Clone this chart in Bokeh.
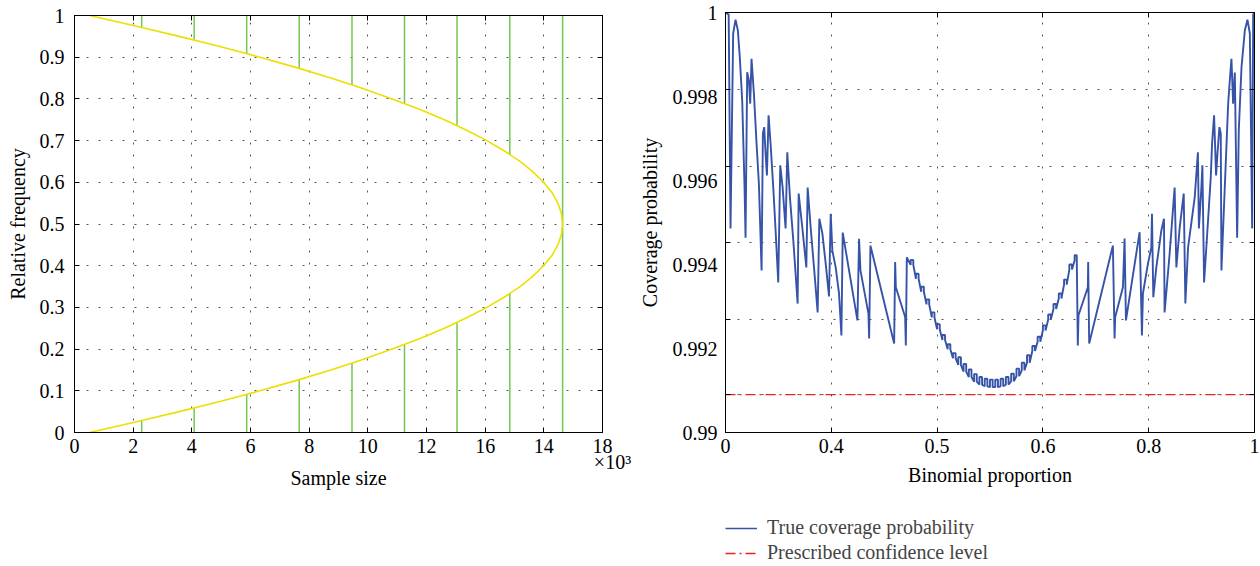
from bokeh.plotting import figure
from bokeh.layouts import row, column
from bokeh.models import FixedTicker, LinearAxis, Legend, LegendItem, Range1d
from bokeh.embed import file_html
from bokeh.resources import INLINE

FONT = "Liberation Serif"
FS = "20px"

# ---------------- Left chart data ----------------
rel_freq = [0.0, 0.025, 0.05, 0.075, 0.1, 0.125, 0.15, 0.175, 0.2, 0.225, 0.25,
            0.275, 0.3, 0.325, 0.35, 0.375, 0.4, 0.425, 0.45, 0.475, 0.5,
            0.525, 0.55, 0.575, 0.6, 0.625, 0.65, 0.675, 0.7, 0.725, 0.75,
            0.775, 0.8, 0.825, 0.85, 0.875, 0.9, 0.925, 0.95, 0.975, 1.0]
sample_size_k = [0.51, 2.08, 3.57, 4.99, 6.32, 7.57, 8.74, 9.83, 10.83, 11.76, 12.61,
                 13.37, 14.06, 14.66, 15.19, 15.63, 15.99, 16.28, 16.48, 16.60, 16.64,
                 16.60, 16.48, 16.28, 15.99, 15.63, 15.19, 14.66, 14.06, 13.37, 12.61,
                 11.76, 10.83, 9.83, 8.74, 7.57, 6.32, 4.99, 3.57, 2.08, 0.51]
green_x = [2.29, 4.08, 5.87, 7.66, 9.46, 11.25, 13.04, 14.84, 16.64]
green_low = [0.0284, 0.0588, 0.0914, 0.1269, 0.1664, 0.2110, 0.2638, 0.3330, 0.5]
green_high = [0.9716, 0.9412, 0.9086, 0.8731, 0.8336, 0.7890, 0.7362, 0.6670, 0.5]
green_bottom = [0.0] * 9
green_top = [1.0] * 9
left_xticks = [0, 2, 4, 6, 8, 10, 12, 14, 16, 18]
left_xlabels = ["0", "2", "4", "6", "8", "10", "12", "16", "14", "18"]
left_yticks = [0, 0.1, 0.2, 0.3, 0.4, 0.5, 0.6, 0.7, 0.8, 0.9, 1]
left_ylabels = ["0", "0.1", "0.2", "0.3", "0.4", "0.5", "0.6", "0.7", "0.8", "0.9", "1"]
left_xgrid = [2, 4, 6, 8, 10, 12, 14, 16]
left_ygrid = [0.1, 0.2, 0.3, 0.4, 0.5, 0.6, 0.7, 0.8, 0.9]
scale_tick = [18]
scale_label = ["\u00a0\u00a0\u00a0\u00a0×10³"]

# ---------------- Right chart data ----------------
cov_x = [0.000, 0.006, 0.0095, 0.0145, 0.019, 0.0234, 0.027, 0.0316, 0.036, 0.0379,
         0.041, 0.0442, 0.0467, 0.0492, 0.0537, 0.0587, 0.0631, 0.0682, 0.0707, 0.0732,
         0.0758, 0.0783, 0.0814, 0.0852, 0.0903, 0.0947, 0.0997, 0.1035, 0.108, 0.1136,
         0.1168, 0.1218, 0.1282, 0.1364, 0.1383, 0.1452, 0.1528, 0.1553, 0.161, 0.1673,
         0.1742, 0.1774, 0.1831, 0.1894, 0.1957, 0.1989, 0.202, 0.2083, 0.2146, 0.2191,
         0.2216, 0.2273, 0.2494, 0.2525, 0.2551, 0.2702, 0.2715, 0.2740, 0.3188, 0.3207,
         0.3220, 0.3396, 0.3409, 0.3428,
         0.350, 0.350, 0.355, 0.355, 0.360, 0.360, 0.365, 0.365,
         0.370, 0.370, 0.375, 0.375, 0.380, 0.380, 0.385, 0.385,
         0.390, 0.390, 0.395, 0.395, 0.400, 0.400, 0.405, 0.405,
         0.410, 0.410, 0.415, 0.415, 0.420, 0.420, 0.425, 0.425,
         0.430, 0.430, 0.435, 0.435, 0.440, 0.440, 0.445, 0.445,
         0.450, 0.450, 0.455, 0.455, 0.460, 0.460, 0.465, 0.465,
         0.470, 0.470, 0.475, 0.475, 0.480, 0.480, 0.485, 0.485,
         0.490, 0.490, 0.495, 0.495, 0.500, 0.500, 0.505, 0.505,
         0.510, 0.510, 0.515, 0.515, 0.520, 0.520, 0.525, 0.525,
         0.530, 0.530, 0.535, 0.535, 0.540, 0.540, 0.545, 0.545,
         0.550, 0.550, 0.555, 0.555, 0.560, 0.560, 0.565, 0.565,
         0.570, 0.570, 0.575, 0.575, 0.580, 0.580, 0.585, 0.585,
         0.590, 0.590, 0.595, 0.595, 0.600, 0.600, 0.605, 0.605,
         0.610, 0.610, 0.615, 0.615, 0.620, 0.620, 0.625, 0.625,
         0.630, 0.630, 0.635, 0.635, 0.640, 0.640, 0.645, 0.645,
         0.650, 0.650, 0.655, 0.655, 0.660, 0.660, 0.664, 0.664,
         0.666, 0.6673, 0.685, 0.6856, 0.6875, 0.7323, 0.7355, 0.7367, 0.7513, 0.7544,
         0.7570, 0.7828, 0.7872, 0.7891, 0.7986, 0.8049, 0.8062, 0.8087, 0.8144, 0.8239,
         0.8289, 0.8300, 0.8396, 0.8490, 0.8523, 0.8586, 0.8662, 0.8693, 0.8744, 0.8870,
         0.8930, 0.8949, 0.8996, 0.9015, 0.9047, 0.9110, 0.9173, 0.9198, 0.9236, 0.9274,
         0.9300, 0.9337, 0.9362, 0.9375, 0.9438, 0.9502, 0.9533, 0.9564, 0.9596, 0.9628,
         0.9672, 0.9703, 0.9754, 0.9817, 0.9867, 0.9912, 0.9956, 0.9975, 1.000]
cov_y = [1.00000, 0.99995, 0.99486, 0.99950, 0.99983, 0.99957, 0.99894, 0.99790, 0.99583, 0.99464,
         0.99858, 0.99838, 0.99783, 0.99890, 0.99807, 0.99688, 0.99593, 0.99386, 0.99712, 0.99727,
         0.99664, 0.99612, 0.99755, 0.99688, 0.99583, 0.99481, 0.99357, 0.99636, 0.99583, 0.99486,
         0.99667, 0.99560, 0.99457, 0.99307, 0.99569, 0.99488, 0.99393, 0.99583, 0.99488, 0.99393,
         0.99286, 0.99509, 0.99474, 0.99402, 0.99324, 0.99521, 0.99433, 0.99393, 0.99331, 0.99231,
         0.99476, 0.99433, 0.99267, 0.99461, 0.99386, 0.99283, 0.99224, 0.99445, 0.99212, 0.99406,
         0.99346, 0.99275, 0.99207, 0.99417,
         0.99399, 0.99411, 0.99411, 0.99399, 0.99366, 0.99378, 0.99378, 0.99366,
         0.99335, 0.99347, 0.99347, 0.99335, 0.99305, 0.99317, 0.99317, 0.99305,
         0.99274, 0.99286, 0.99286, 0.99274, 0.99246, 0.99258, 0.99258, 0.99246,
         0.99220, 0.99232, 0.99232, 0.99220, 0.99198, 0.99210, 0.99210, 0.99198,
         0.99177, 0.99189, 0.99189, 0.99177, 0.99161, 0.99179, 0.99179, 0.99161,
         0.99145, 0.99163, 0.99163, 0.99145, 0.99132, 0.99150, 0.99150, 0.99132,
         0.99121, 0.99139, 0.99139, 0.99121, 0.99114, 0.99132, 0.99132, 0.99114,
         0.99110, 0.99128, 0.99128, 0.99110, 0.99108, 0.99126, 0.99126, 0.99108,
         0.99108, 0.99126, 0.99126, 0.99108, 0.99110, 0.99128, 0.99128, 0.99110,
         0.99114, 0.99132, 0.99132, 0.99114, 0.99122, 0.99140, 0.99140, 0.99122,
         0.99134, 0.99152, 0.99152, 0.99134, 0.99148, 0.99166, 0.99166, 0.99148,
         0.99166, 0.99184, 0.99184, 0.99166, 0.99194, 0.99206, 0.99206, 0.99194,
         0.99216, 0.99228, 0.99228, 0.99216, 0.99243, 0.99255, 0.99255, 0.99243,
         0.99269, 0.99281, 0.99281, 0.99269, 0.99294, 0.99306, 0.99306, 0.99294,
         0.99319, 0.99331, 0.99331, 0.99319, 0.99352, 0.99364, 0.99364, 0.99352,
         0.99388, 0.99400, 0.99400, 0.99388, 0.99410, 0.99422, 0.99422, 0.99415,
         0.99207, 0.99279, 0.99346, 0.99406, 0.99212, 0.99445, 0.99224, 0.99275, 0.99346, 0.99462,
         0.99267, 0.99477, 0.99231, 0.99331, 0.99402, 0.99440, 0.99521, 0.99322, 0.99393, 0.99481,
         0.99509, 0.99286, 0.99426, 0.99583, 0.99393, 0.99488, 0.99569, 0.99307, 0.99440, 0.99560,
         0.99667, 0.99486, 0.99583, 0.99636, 0.99357, 0.99481, 0.99607, 0.99688, 0.99755, 0.99612,
         0.99664, 0.99727, 0.99712, 0.99386, 0.99583, 0.99783, 0.99838, 0.99890, 0.99783, 0.99857,
         0.99464, 0.99719, 0.99869, 0.99957, 0.99983, 0.99950, 0.99486, 0.99995, 1.00000]
conf_x = [0.0, 1.0]
conf_y = [0.9909, 0.9909]
right_xticks = [0, 0.2, 0.4, 0.6, 0.8, 1]
right_xlabels = ["0", "0.4", "0.5", "0.6", "0.8", "1"]
right_xgrid = [0.2, 0.4, 0.6, 0.8]
right_ylabel_vals = [0.99, 0.992, 0.994, 0.996, 0.998, 1.0]
right_ylabels = ["0.99", "0.992", "0.994", "0.996", "0.998", "1"]
right_ygrid = [0.99090, 0.99270, 0.99452, 0.99633, 0.99817]
legend_labels = ["True coverage probability", "Prescribed confidence level"]

GRID_COLOR = "#555555"
BLUE = "#3653a8"
RED = "#e8221e"
RED_DASH = "10 4 2 4"


def style_axis(ax):
    ax.axis_label_text_font = FONT
    ax.axis_label_text_font_size = FS
    ax.axis_label_text_font_style = "normal"
    ax.axis_label_text_color = "black"
    ax.major_label_text_font = FONT
    ax.major_label_text_font_size = FS
    ax.major_label_text_color = "black"
    ax.axis_line_color = "black"
    ax.major_tick_line_color = "black"
    ax.minor_tick_line_color = "black"
    ax.major_tick_in = 5
    ax.major_tick_out = 0
    ax.minor_tick_in = 0
    ax.minor_tick_out = 0


def tick_axis(ticker, minor_in=0):
    # frame-edge axis that only carries inward tick marks (its labels are not drawn)
    ax = LinearAxis(ticker=ticker)
    ax.major_label_text_font_size = "1px"
    ax.major_label_text_color = None
    ax.major_label_standoff = 0
    ax.axis_line_color = "black"
    ax.major_tick_line_color = "black"
    ax.minor_tick_line_color = "black"
    ax.major_tick_in = 5
    ax.major_tick_out = 0
    ax.minor_tick_in = minor_in
    ax.minor_tick_out = 0
    return ax


def style_grid(p, xg, yg):
    p.xgrid.ticker = FixedTicker(ticks=xg)
    p.ygrid.ticker = FixedTicker(ticks=yg)
    for g in (p.xgrid[0], p.ygrid[0]):
        g.grid_line_color = GRID_COLOR
        g.grid_line_dash = "2 10"
        g.grid_line_width = 1


# ---------------- Left figure ----------------
p1 = figure(width=635, height=502, x_range=Range1d(0, 18), y_range=Range1d(0, 1),
            output_backend="svg", toolbar_location=None,
            min_border_left=74, min_border_right=33, min_border_top=15, min_border_bottom=70,
            outline_line_color="black", background_fill_color="white")
style_grid(p1, left_xgrid, left_ygrid)
p1.xaxis.ticker = FixedTicker(ticks=left_xticks)
p1.xaxis.major_label_overrides = dict(zip(left_xticks, left_xlabels))
p1.yaxis.ticker = FixedTicker(ticks=left_yticks)
p1.yaxis.major_label_overrides = dict(zip(left_yticks, left_ylabels))
p1.yaxis.axis_label = "Relative frequency"
for ax in p1.xaxis + p1.yaxis:
    style_axis(ax)
p1.xaxis.major_label_standoff = 6
p1.yaxis.major_label_standoff = 10
p1.yaxis.axis_label_standoff = 8

# second "below" axis carrying the x10^3 multiplier and the axis title
sc_ax = LinearAxis(ticker=FixedTicker(ticks=scale_tick),
                   major_label_overrides=dict(zip(scale_tick, scale_label)),
                   axis_label="Sample size")
style_axis(sc_ax)
sc_ax.axis_line_color = None
sc_ax.major_tick_line_color = None
sc_ax.major_tick_in = 0
sc_ax.major_label_standoff = -5
sc_ax.axis_label_standoff = -9
p1.add_layout(sc_ax, "below")
p1.add_layout(tick_axis(FixedTicker(ticks=left_xticks)), "above")
p1.add_layout(tick_axis(FixedTicker(ticks=left_yticks)), "right")

p1.segment(x0=green_x, y0=green_bottom, x1=green_x, y1=green_low,
           line_color="#74c850", line_width=1.5)
p1.segment(x0=green_x, y0=green_high, x1=green_x, y1=green_top,
           line_color="#74c850", line_width=1.5)
p1.line(x=sample_size_k, y=rel_freq, line_color="#ece000", line_width=1.6)

# ---------------- Right figure ----------------
p2 = figure(width=625, height=494, x_range=Range1d(0, 1), y_range=Range1d(0.99, 1.0),
            output_backend="svg", toolbar_location=None,
            min_border_left=90, min_border_right=6, min_border_top=12, min_border_bottom=62,
            outline_line_color="black", background_fill_color="white")
style_grid(p2, right_xgrid, right_ygrid)
p2.xaxis.ticker = FixedTicker(ticks=right_xticks)
p2.xaxis.major_label_overrides = dict(zip(right_xticks, right_xlabels))
p2.yaxis.ticker = FixedTicker(ticks=right_ylabel_vals, minor_ticks=right_ygrid)
p2.yaxis.major_label_overrides = dict(zip(right_ylabel_vals, right_ylabels))
p2.xaxis.axis_label = "Binomial proportion"
p2.yaxis.axis_label = "Coverage probability"
for ax in p2.xaxis + p2.yaxis:
    style_axis(ax)
p2.yaxis.major_tick_in = 0
p2.yaxis.minor_tick_in = 5
p2.xaxis.major_label_standoff = 6
p2.xaxis.axis_label_standoff = 8
p2.yaxis.major_label_standoff = 8
p2.yaxis.axis_label_standoff = 9
p2.add_layout(tick_axis(FixedTicker(ticks=right_xticks)), "above")
p2.add_layout(tick_axis(FixedTicker(ticks=[], minor_ticks=right_ygrid), minor_in=5), "right")

p2.line(x=cov_x, y=cov_y, line_color=BLUE, line_width=1.9)
p2.line(x=conf_x, y=conf_y, line_color=RED, line_width=1.3, line_dash=RED_DASH)

# ---------------- Legend strip below the right chart ----------------
pl = figure(width=625, height=72, x_axis_type=None, y_axis_type=None,
            x_range=Range1d(0, 1), y_range=Range1d(0.99, 1.0),
            output_backend="svg", toolbar_location=None,
            min_border_left=90, min_border_right=6, min_border_top=22, min_border_bottom=0,
            outline_line_color=None, background_fill_color="white")
pl.xgrid.visible = False
pl.ygrid.visible = False
# legend keys: one-point copies of each series (a single point draws no visible line)
key_cov = pl.line(x=cov_x[:1], y=cov_y[:1], line_color=BLUE, line_width=1.3)
key_conf = pl.line(x=conf_x[:1], y=conf_y[:1], line_color=RED, line_width=1.3,
                   line_dash=RED_DASH)
legend = Legend(items=[LegendItem(label=legend_labels[0], renderers=[key_cov]),
                       LegendItem(label=legend_labels[1], renderers=[key_conf])],
                location="top_left", orientation="vertical",
                label_text_font=FONT, label_text_font_size=FS,
                glyph_width=32, glyph_height=20, label_height=20,
                label_standoff=10, spacing=2, padding=0, margin=0,
                border_line_color=None, background_fill_alpha=0)
pl.add_layout(legend, "center")

layout = row(p1, column(p2, pl, spacing=0), spacing=0)
open("out.html", "w").write(file_html(layout, INLINE))
